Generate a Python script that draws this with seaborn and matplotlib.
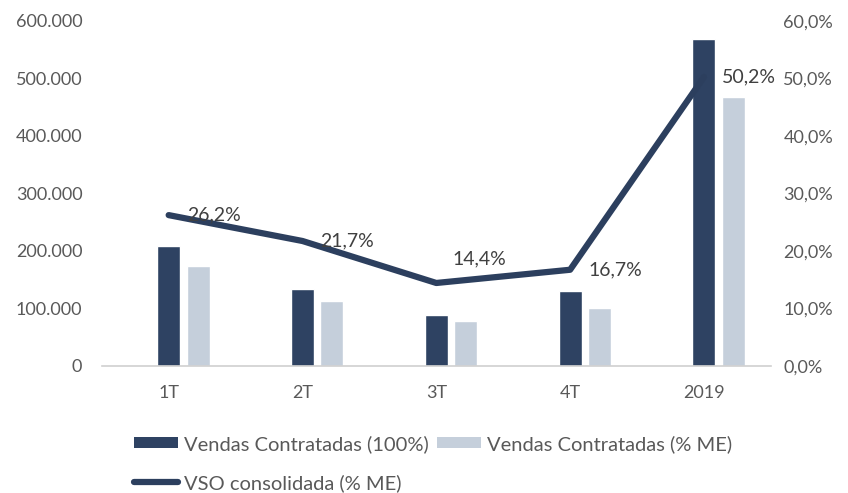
import numpy as np
import pandas as pd
import matplotlib
matplotlib.use("Agg")
import matplotlib.pyplot as plt
import seaborn as sns
from matplotlib.patches import Patch
from matplotlib.lines import Line2D

categories = ["1T", "2T", "3T", "4T", "2019"]
vendas_100 = [209000, 133000, 88000, 130000, 568000]
vendas_me = [173000, 112000, 78000, 101000, 467000]
vso = [26.2, 21.7, 14.4, 16.7, 50.2]
vso_labels = ["26,2%", "21,7%", "14,4%", "16,7%", "50,2%"]
left_ticks = [0, 100000, 200000, 300000, 400000, 500000, 600000]
left_tick_labels = ["0", "100.000", "200.000", "300.000", "400.000", "500.000", "600.000"]
right_ticks = [0, 10, 20, 30, 40, 50, 60]
right_tick_labels = ["0,0%", "10,0%", "20,0%", "30,0%", "40,0%", "50,0%", "60,0%"]

sns.set_theme(style="white")
plt.rcParams["font.family"] = ["Lato", "DejaVu Sans"]

DARK = "#2E4262"
LIGHT = "#C5CFDB"
LINE = "#2C3F5E"
TXT = "#595959"
FS = 13
LFS = 14.5

idx = np.arange(len(categories))
df = pd.DataFrame({"pos": idx, "pos2": idx + 0.22, "v100": vendas_100, "vme": vendas_me, "vso": vso})

fig = plt.figure(figsize=(8.48, 4.93), dpi=100)
ax = fig.add_axes([0.12, 0.258, 0.789, 0.700])

sns.barplot(data=df, x="pos", y="v100", ax=ax, native_scale=True, width=0.172,
            color=DARK, saturation=1, errorbar=None)
sns.barplot(data=df, x="pos2", y="vme", ax=ax, native_scale=True, width=0.172,
            color=LIGHT, saturation=1, errorbar=None)

ax.set_xlim(-0.5, 4.5)
ax.set_ylim(0, 600000)
ax.set_xticks(idx)
ax.set_xticklabels(categories)
ax.set_yticks(left_ticks)
ax.set_yticklabels(left_tick_labels)
ax.set_xlabel("")
ax.set_ylabel("")
for s in ["top", "right", "left"]:
    ax.spines[s].set_visible(False)
ax.spines["bottom"].set_color("#D0D0D0")
ax.spines["bottom"].set_linewidth(1.2)
ax.tick_params(axis="both", length=0, colors=TXT, labelsize=FS)
ax.tick_params(axis="y", pad=14)
ax.tick_params(axis="x", pad=14)

ax2 = ax.twinx()
sns.lineplot(data=df, x="pos", y="vso", ax=ax2, color=LINE, linewidth=4.5)
ax2.set_ylim(0, 60)
ax2.set_xlim(-0.5, 4.5)
ax2.set_yticks(right_ticks)
ax2.set_yticklabels(right_tick_labels)
ax2.set_ylabel("")
ax2.set_xlabel("")
for s in ["top", "right", "left", "bottom"]:
    ax2.spines[s].set_visible(False)
ax2.tick_params(axis="y", length=0, colors=TXT, labelsize=FS, pad=9)

offsets = [(13, 0), (13, 0), (12, 17), (13, 0), (13, 0)]
for x, y, lab, off in zip(idx, vso, vso_labels, offsets):
    ax2.annotate(lab, (x, y), xytext=off, textcoords="offset points",
                 ha="left", va="center", fontsize=14, color="#404040")

handles = [Patch(facecolor=DARK, edgecolor="none"),
           Line2D([0], [0], color=LINE, linewidth=4.5),
           Patch(facecolor=LIGHT, edgecolor="none")]
labels = ["Vendas Contratadas (100%)", "VSO consolidada (% ME)", "Vendas Contratadas (% ME)"]
fig.legend(handles, labels, loc="upper left", bbox_to_anchor=(0.158, 0.118),
           ncol=2, frameon=False, fontsize=LFS, labelcolor=TXT,
           handlelength=2.2, handleheight=0.45, handletextpad=0.3,
           columnspacing=0.4, labelspacing=1.05, borderpad=0, borderaxespad=0)

fig.savefig("out.png", dpi=100)
